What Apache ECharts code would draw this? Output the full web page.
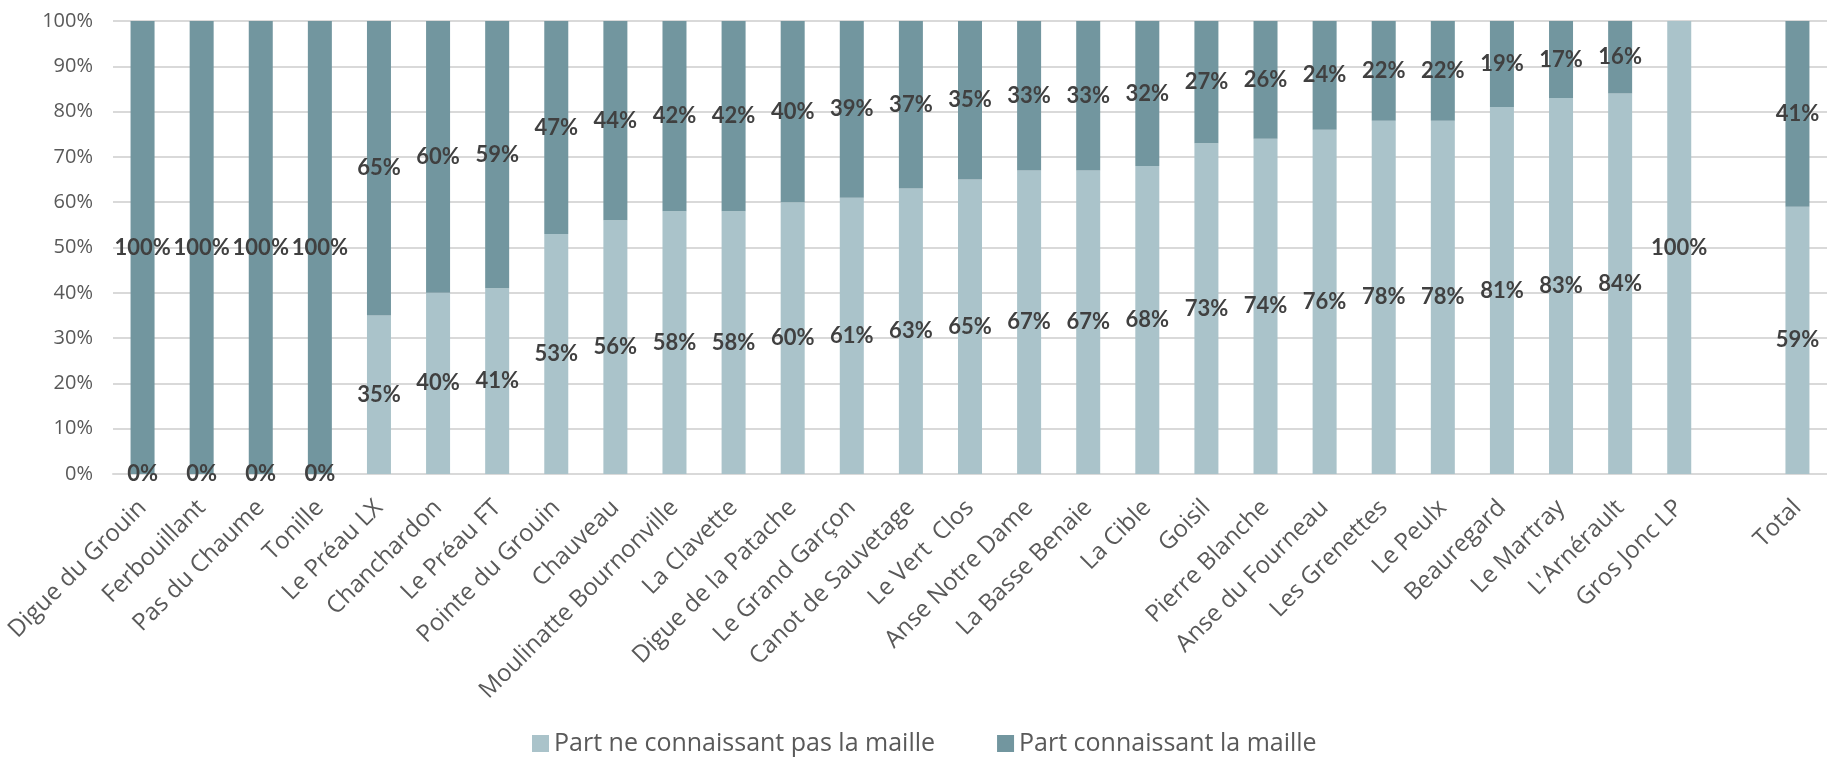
<!DOCTYPE html>
<html>
<head>
<meta charset="utf-8">
<script src="https://cdn.jsdelivr.net/npm/echarts@6/dist/echarts.min.js"></script>
<style>
html,body{margin:0;padding:0;background:#fff;}
#chart{width:1827px;height:758px;}
</style>
</head>
<body>
<div id="chart"></div>
<script>
const categories = ["Digue du Grouin","Ferbouillant","Pas du Chaume","Tonille","Le Préau LX","Chanchardon","Le Préau FT","Pointe du Grouin","Chauveau","Moulinatte Bournonville","La Clavette","Digue de la Patache","Le Grand Garçon","Canot de Sauvetage","Le Vert  Clos","Anse Notre Dame","La Basse Benaie","La Cible","Goisil","Pierre Blanche","Anse du Fourneau","Les Grenettes","Le Peulx","Beauregard","Le Martray","L'Arnérault","Gros Jonc LP","","Total"];
const partNeConnaissantPas = [0,0,0,0,35,40,41,53,56,58,58,60,61,63,65,67,67,68,73,74,76,78,78,81,83,84,100,null,59];
const partConnaissant = [100,100,100,100,65,60,59,47,44,42,42,40,39,37,35,33,33,32,27,26,24,22,22,19,17,16,null,null,41];
const yTicks = [0,10,20,30,40,50,60,70,80,90,100];

const chart = echarts.init(document.getElementById('chart'), null, {renderer:'canvas'});
const labelStyle = {
  show: true,
  position: 'inside',
  fontFamily: 'Lato',
  fontWeight: 'bold',
  fontSize: 22,
  color: '#404040',
  formatter: p => (p.value == null ? '' : Math.round(p.value) + '%')
};
chart.setOption({
  animation: false,
  backgroundColor: '#ffffff',
  grid: {left: 113, right: 0, top: 21, bottom: 284, containLabel: false},
  legend: {
    left: 527, top: 726,
    itemWidth: 17, itemHeight: 17, itemGap: 62,
    icon: 'rect',
    textStyle: {fontFamily: 'Open Sans', fontSize: 25, color: '#595959'},
    data: ['Part ne connaissant pas la maille', 'Part connaissant la maille']
  },
  xAxis: {
    type: 'category',
    data: categories,
    axisLine: {show: true, lineStyle: {color: '#D9D9D9', width: 2}},
    axisTick: {show: false},
    axisLabel: {
      interval: 0, rotate: 45, margin: 30,
      fontFamily: 'Open Sans', fontSize: 24, color: '#595959'
    }
  },
  yAxis: {
    type: 'value',
    min: yTicks[0], max: yTicks[yTicks.length - 1], interval: 10,
    axisLine: {show: false},
    axisTick: {show: false},
    splitLine: {lineStyle: {color: '#D9D9D9', width: 2}},
    axisLabel: {
      margin: 20, fontFamily: 'Open Sans', fontSize: 20, color: '#595959',
      formatter: v => v + '%'
    }
  },
  series: [
    {
      name: 'Part ne connaissant pas la maille',
      type: 'bar', stack: 'total', barWidth: 24,
      itemStyle: {color: '#AAC3CA'},
      label: labelStyle,
      data: partNeConnaissantPas
    },
    {
      name: 'Part connaissant la maille',
      type: 'bar', stack: 'total', barWidth: 24,
      itemStyle: {color: '#72969F'},
      label: labelStyle,
      data: partConnaissant
    }
  ]
});
</script>
</body>
</html>
